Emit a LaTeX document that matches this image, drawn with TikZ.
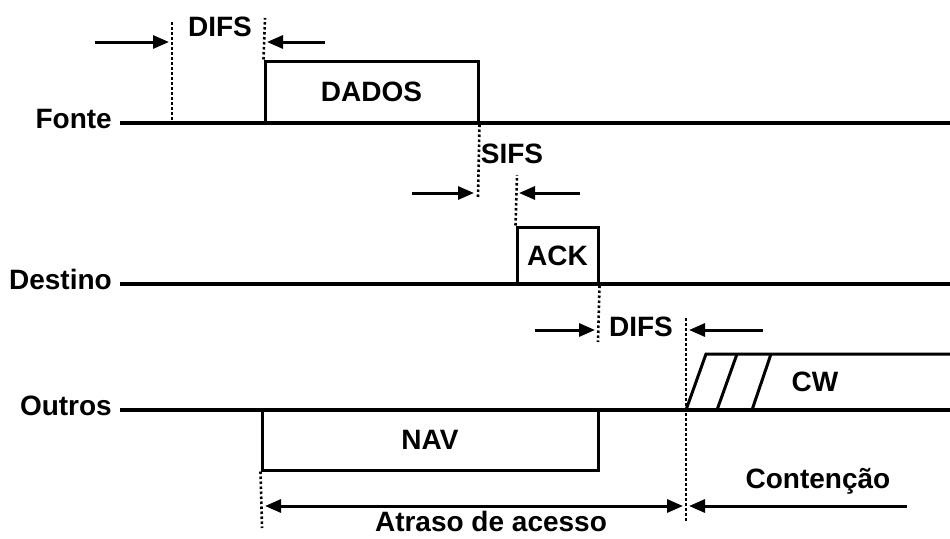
\documentclass[tikz,border=0pt]{standalone}
\usepackage{fontspec}
\setmainfont{Liberation Sans}
\usetikzlibrary{arrows.meta}
\begin{document}
\begin{tikzpicture}[x=1pt,y=-1pt,
  lbl/.style={font=\fontsize{28}{31}\selectfont\bfseries, inner sep=0pt},
  axisline/.style={line width=3.3pt},
  box/.style={draw, line width=3pt, inner sep=0pt, font=\fontsize{28}{31}\selectfont\bfseries},
  dots/.style={line width=2.6pt, dash pattern=on 2.5pt off 2.5pt},
  arr/.style={line width=3pt, -{Triangle[length=16pt,width=13pt]}},
  darr/.style={line width=3pt, {Triangle[length=16pt,width=13pt]}-{Triangle[length=16pt,width=13pt]}},
]
\useasboundingbox (0,0) rectangle (950,538);

% station labels and time lines
\node[lbl, anchor=base east] (fonte) at (112,128) {Fonte};
\node[lbl, anchor=base east] (destino) at (112,289) {Destino};
\node[lbl, anchor=base east] (outros) at (112,415) {Outros};
\coordinate (fstart) at (120,123);
\coordinate (dstart) at (120,284);
\coordinate (ostart) at (120,410);
\coordinate (fend) at (950,123);
\coordinate (dend) at (950,284);
\coordinate (oend) at (950,410);
\draw[axisline] (fstart) -- (fend);
\draw[axisline] (dstart) -- (dend);
\draw[axisline] (ostart) -- (oend);

% frames
\node[box, minimum width=213pt, minimum height=62pt] (dados) at (371.5,92) {DADOS};
\node[box, minimum width=81pt, minimum height=57pt] (ack) at (557.5,255.5) {ACK};
\node[box, minimum width=336pt, minimum height=60pt] (nav) at (430,440) {NAV};

% contention window
\coordinate (cw0) at (686,410);
\coordinate (cw1) at (706,354);
\coordinate (cw2) at (950,354);
\coordinate (s1a) at (717,410);
\coordinate (s1b) at (737,354);
\coordinate (s2a) at (752,410);
\coordinate (s2b) at (771,354);
\draw[line width=3pt, line join=miter] (cw0) -- (cw1) -- (cw2);
\draw[line width=3pt] (s1a) -- (s1b);
\draw[line width=3pt] (s2a) -- (s2b);
\node[lbl] (cw) at (815,382) {CW};

% dotted markers
\coordinate (d1a) at (172,22);
\coordinate (d1b) at (172,120);
\coordinate (d2t) at (265,18);
\coordinate (d3b) at (478,197);
\coordinate (d4t) at (517,175);
\coordinate (d5b) at (598,342);
\coordinate (d6a) at (686,318);
\coordinate (d6b) at (686,522);
\coordinate (d7b) at (262,528);
\draw[dots] (d1a) -- (d1b);
\draw[dots] (dados.north west) -- (d2t);
\draw[dots] (dados.south east) -- (d3b);
\draw[dots] (ack.north west) -- (d4t);
\draw[dots] (ack.south east) -- (d5b);
\draw[dots] (d6a) -- (d6b);
\draw[dots] (nav.south west) -- (d7b);

% interval labels
\node[lbl] (difs1) at (220,27) {DIFS};
\node[lbl] (sifs) at (512,154) {SIFS};
\node[lbl] (difs2) at (641,327) {DIFS};
\node[lbl, anchor=base] (cont) at (818,488) {Contenção};
\node[lbl, anchor=base] (atraso) at (491,531) {Atraso de acesso};

% arrows
\coordinate (a1s) at (95,42);   \coordinate (a1e) at (169,42);
\coordinate (a2s) at (325,42);  \coordinate (a2e) at (267,42);
\coordinate (a3s) at (412,193); \coordinate (a3e) at (474,193);
\coordinate (a4s) at (580,193); \coordinate (a4e) at (519,193);
\coordinate (a5s) at (535,330); \coordinate (a5e) at (595,330);
\coordinate (a6s) at (763,330); \coordinate (a6e) at (689,330);
\coordinate (a7s) at (265,506); \coordinate (a7e) at (683,506);
\coordinate (a8s) at (907,506); \coordinate (a8e) at (689,506);
\draw[arr] (a1s) -- (a1e);
\draw[arr] (a2s) -- (a2e);
\draw[arr] (a3s) -- (a3e);
\draw[arr] (a4s) -- (a4e);
\draw[arr] (a5s) -- (a5e);
\draw[arr] (a6s) -- (a6e);
\draw[darr] (a7s) -- (a7e);
\draw[arr] (a8s) -- (a8e);
\end{tikzpicture}
\end{document}
